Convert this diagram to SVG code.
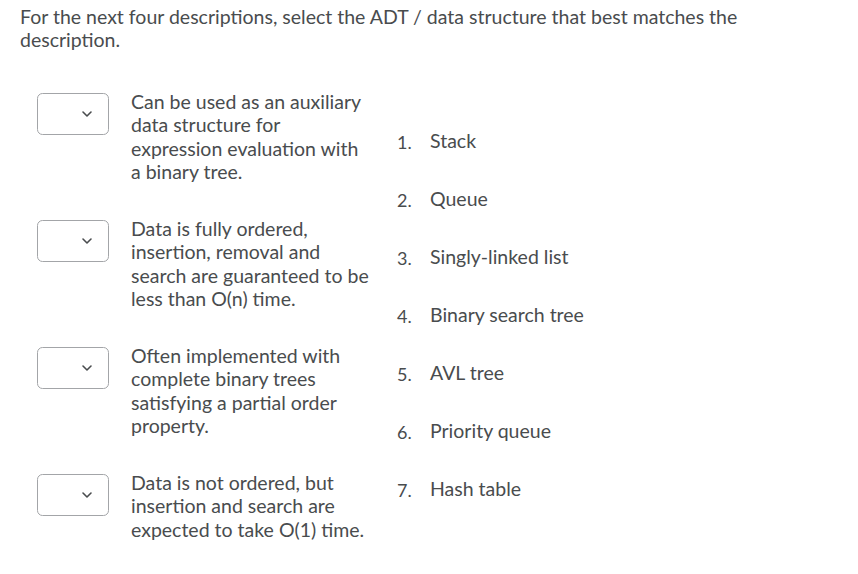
<svg xmlns="http://www.w3.org/2000/svg" width="858" height="574" viewBox="0 0 858 574">
<style>
text{font-family:Lato,"Liberation Sans",sans-serif;font-size:19.5px;fill:#494c4e}
.b{fill:#fff;stroke:#a3a5a8;stroke-width:1}
.c{fill:none;stroke:#494c4e;stroke-width:1.6;stroke-linecap:round;stroke-linejoin:round}
.n{font-size:18px}
</style>
<rect width="858" height="574" fill="#fff"/>
<text x="20" y="24">For the next four descriptions, select the ADT / data structure that best matches the</text>
<text x="20" y="47">description.</text>
<g id="q1"><rect class="b" x="37.5" y="93.5" width="71" height="41" rx="5"/><path class="c" d="M83 112l4 4 4-4"/>
<text x="131" y="109">Can be used as an auxiliary</text><text x="131" y="132">data structure for</text><text x="131" y="156">expression evaluation with</text><text x="131" y="179">a binary tree.</text></g>
<g id="q2"><rect class="b" x="37.5" y="220.5" width="71" height="41" rx="5"/><path class="c" d="M83 239l4 4 4-4"/>
<text x="131" y="236">Data is fully ordered,</text><text x="131" y="259">insertion, removal and</text><text x="131" y="283">search are guaranteed to be</text><text x="131" y="306">less than O(n) time.</text></g>
<g id="q3"><rect class="b" x="37.5" y="347.5" width="71" height="41" rx="5"/><path class="c" d="M83 366l4 4 4-4"/>
<text x="131" y="363">Often implemented with</text><text x="131" y="386">complete binary trees</text><text x="131" y="410">satisfying a partial order</text><text x="131" y="433">property.</text></g>
<g id="q4"><rect class="b" x="37.5" y="474.5" width="71" height="41" rx="5"/><path class="c" d="M83 493l4 4 4-4"/>
<text x="131" y="490">Data is not ordered, but</text><text x="131" y="513">insertion and search are</text><text x="131" y="537">expected to take O(1) time.</text></g>
<g id="options">
<text x="397" y="149" class="n">1.</text><text x="430" y="148">Stack</text>
<text x="397" y="207" class="n">2.</text><text x="430" y="206">Queue</text>
<text x="397" y="265" class="n">3.</text><text x="430" y="264">Singly-linked list</text>
<text x="397" y="323" class="n">4.</text><text x="430" y="322">Binary search tree</text>
<text x="397" y="381" class="n">5.</text><text x="430" y="380">AVL tree</text>
<text x="397" y="439" class="n">6.</text><text x="430" y="438">Priority queue</text>
<text x="397" y="497" class="n">7.</text><text x="430" y="496">Hash table</text>
</g>
</svg>
